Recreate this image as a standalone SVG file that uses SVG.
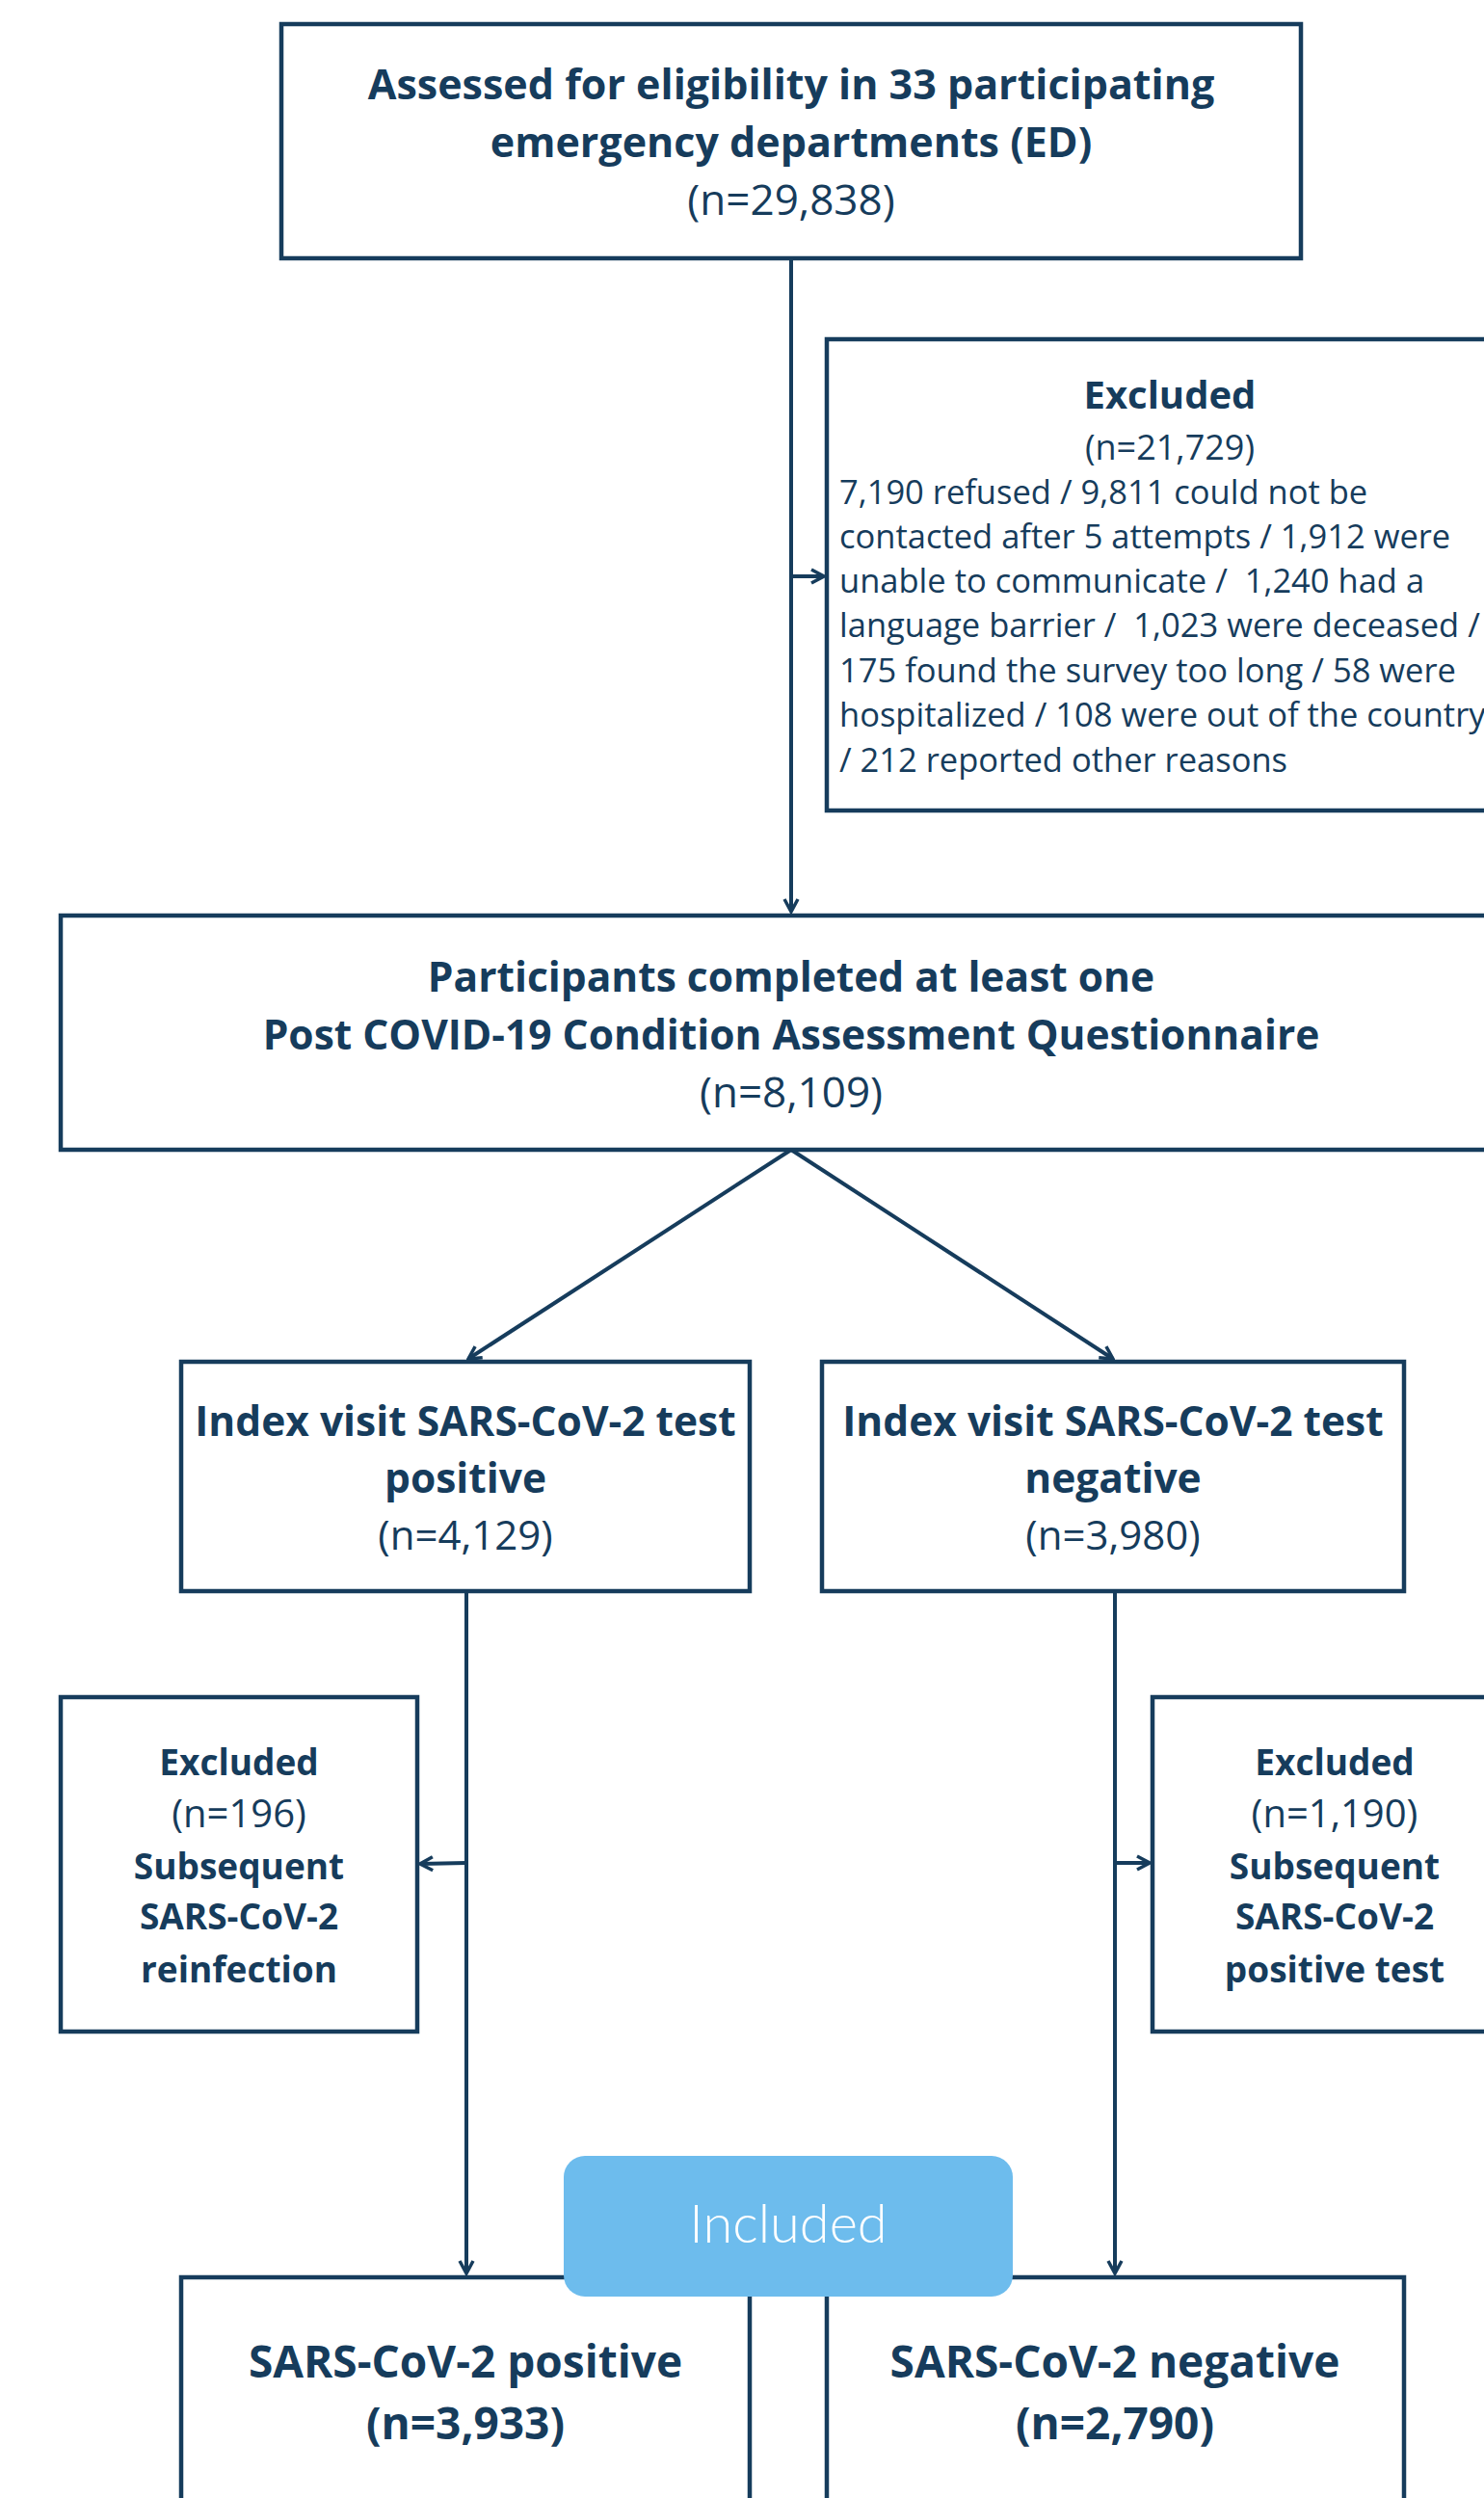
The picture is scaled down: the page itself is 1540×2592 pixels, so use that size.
<svg xmlns="http://www.w3.org/2000/svg" width="1540" height="2592" viewBox="0 0 1540 2592">
<defs>
<style>
.box{fill:#fff;stroke:#163c5c;stroke-width:4.5}
.ln{fill:none;stroke:#163c5c;stroke-width:4}
text{font-family:"Open Sans",Lato,"Liberation Sans",sans-serif;fill:#163c5c}
.b{font-weight:700;font-size:42.5px;text-anchor:middle}
.r{font-weight:400;font-size:43px;text-anchor:middle}
.s{font-weight:400;font-size:34.5px;white-space:pre}
.eb{font-weight:700;font-size:37px;text-anchor:middle}
.er{font-weight:400;font-size:40px;text-anchor:middle}
.f{font-weight:700;font-size:46px;text-anchor:middle}
</style>
<marker id="ah" viewBox="0 0 18 18" refX="16" refY="9" markerWidth="18" markerHeight="18" markerUnits="userSpaceOnUse" orient="auto">
<path d="M3,2 L16,9 L3,16" fill="none" stroke="#163c5c" stroke-width="3.5"/>
</marker>
</defs>
<rect width="1540" height="2592" fill="#fff"/>
<g id="connectors">
<line class="ln" x1="821" y1="268" x2="821" y2="946" marker-end="url(#ah)"/>
<line class="ln" x1="821" y1="598" x2="855" y2="598" marker-end="url(#ah)"/>
<line class="ln" x1="821" y1="1193" x2="486" y2="1410" marker-end="url(#ah)"/>
<line class="ln" x1="821" y1="1193" x2="1155" y2="1410" marker-end="url(#ah)"/>
<line class="ln" x1="484" y1="1651" x2="484" y2="2359" marker-end="url(#ah)"/>
<line class="ln" x1="1157" y1="1651" x2="1157" y2="2359" marker-end="url(#ah)"/>
<line class="ln" x1="484" y1="1933" x2="436" y2="1934" marker-end="url(#ah)"/>
<line class="ln" x1="1157" y1="1933" x2="1193" y2="1933" marker-end="url(#ah)"/>
</g>
<g id="assessed">
<rect class="box" x="292" y="25" width="1058" height="243"/>
<text class="b" x="821" y="103" style="font-size:43px">Assessed for eligibility in 33 participating</text>
<text class="b" x="821" y="163" style="font-size:43px">emergency departments (ED)</text>
<text class="r" x="821" y="223" style="font-size:44px">(n=29,838)</text>
</g>
<g id="excluded1">
<rect class="box" x="858" y="352" width="700" height="489"/>
<text class="b" x="1214" y="424" style="font-size:40px">Excluded</text>
<text class="r" x="1214" y="477" style="font-size:36px">(n=21,729)</text>
<text class="s" x="871" y="523">7,190 refused / 9,811 could not be</text>
<text class="s" x="871" y="569">contacted after 5 attempts / 1,912 were</text>
<text class="s" x="871" y="615">unable to communicate /  1,240 had a</text>
<text class="s" x="871" y="661">language barrier /  1,023 were deceased /</text>
<text class="s" x="871" y="708">175 found the survey too long / 58 were</text>
<text class="s" x="871" y="754">hospitalized / 108 were out of the country</text>
<text class="s" x="871" y="801">/ 212 reported other reasons</text>
</g>
<g id="participants">
<rect class="box" x="63" y="950" width="1500" height="243"/>
<text class="b" x="821" y="1029">Participants completed at least one</text>
<text class="b" x="821" y="1089">Post COVID-19 Condition Assessment Questionnaire</text>
<text class="r" x="821" y="1149" style="font-size:44px">(n=8,109)</text>
</g>
<g id="index-positive">
<rect class="box" x="188" y="1413" width="590" height="238"/>
<text class="b" x="483" y="1490">Index visit SARS-CoV-2 test</text>
<text class="b" x="483" y="1549">positive</text>
<text class="r" x="483" y="1608" style="font-size:42px">(n=4,129)</text>
</g>
<g id="index-negative">
<rect class="box" x="853" y="1413" width="604" height="238"/>
<text class="b" x="1155" y="1490">Index visit SARS-CoV-2 test</text>
<text class="b" x="1155" y="1549">negative</text>
<text class="r" x="1155" y="1608" style="font-size:42px">(n=3,980)</text>
</g>
<g id="excluded-positive">
<rect class="box" x="63" y="1761" width="370" height="347"/>
<text class="eb" x="248" y="1842">Excluded</text>
<text class="er" x="248" y="1896">(n=196)</text>
<text class="eb" x="248" y="1950">Subsequent</text>
<text class="eb" x="248" y="2002">SARS-CoV-2</text>
<text class="eb" x="248" y="2057">reinfection</text>
</g>
<g id="excluded-negative">
<rect class="box" x="1196" y="1761" width="370" height="347"/>
<text class="eb" x="1385" y="1842">Excluded</text>
<text class="er" x="1385" y="1896">(n=1,190)</text>
<text class="eb" x="1385" y="1950">Subsequent</text>
<text class="eb" x="1385" y="2002">SARS-CoV-2</text>
<text class="eb" x="1385" y="2057">positive test</text>
</g>
<g id="positive-final">
<rect class="box" x="188" y="2363" width="590" height="260"/>
<text class="f" x="483" y="2467">SARS-CoV-2 positive</text>
<text class="f" x="483" y="2531">(n=3,933)</text>
</g>
<g id="negative-final">
<rect class="box" x="858" y="2363" width="599" height="260"/>
<text class="f" x="1157" y="2467">SARS-CoV-2 negative</text>
<text class="f" x="1157" y="2531">(n=2,790)</text>
</g>
<g id="included">
<rect x="585" y="2237" width="466" height="146" rx="22" ry="22" fill="#6dbced"/>
<text x="818" y="2327" style="font-family:Lato,'Open Sans',sans-serif;font-weight:300;font-size:56px;text-anchor:middle;fill:#fff">Included</text>
</g>
</svg>
